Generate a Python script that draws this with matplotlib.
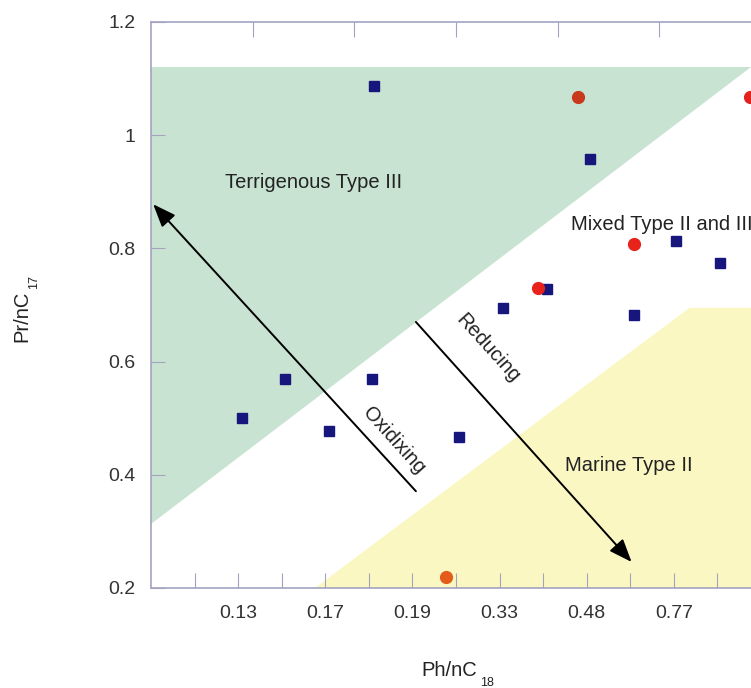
import matplotlib
matplotlib.use('Agg')
import matplotlib.pyplot as plt
from matplotlib import rcParams

rcParams['font.family'] = ['Liberation Sans', 'DejaVu Sans']

# x positions are category slots (tick index), y is Pr/nC17
tick_labels = ['0.13', '0.17', '0.19', '0.33', '0.48', '0.77']
label_slots = [2, 4, 6, 8, 10, 12]

blue_x = [2.09, 3.07, 4.08, 5.07, 5.11, 7.06, 8.07, 9.08, 10.07, 11.08, 12.06, 13.07]
blue_y = [0.500, 0.569, 0.477, 0.569, 1.087, 0.467, 0.695, 0.728, 0.958, 0.682, 0.813, 0.774]

red_x = [9.79, 13.74, 11.08, 8.88]
red_y = [1.067, 1.067, 0.808, 0.730]
red_colors = ['#c9391c', '#e0231c', '#e8231c', '#e8231c']

orange_x = [6.77]
orange_y = [0.219]

# zone outlines
terr_x = [0, 0, 13.76]
terr_y = [0.313, 1.12, 1.12]
marine_x = [3.76, 12.36, 14, 14]
marine_y = [0.2, 0.695, 0.695, 0.2]

W, H = 751, 688
fig = plt.figure(figsize=(W / 100, H / 100), dpi=100)
ax = fig.add_axes([151 / W, 1 - 588 / H, 610 / W, 566 / H])
ax.set_xlim(0, 14)
ax.set_ylim(0.2, 1.2)

ax.fill(terr_x, terr_y, color='#c8e3d2', lw=0, zorder=0)
ax.fill(marine_x, marine_y, color='#fbf7c2', lw=0, zorder=0)

ax.plot(blue_x, blue_y, 's', color='#16167c', markersize=7.5, zorder=3)
for x, y, c in zip(red_x, red_y, red_colors):
    ax.plot(x, y, 'o', color=c, markersize=8.5, zorder=3, clip_on=False)
ax.plot(orange_x, orange_y, 'o', color='#e35c1c', markersize=8.5, zorder=3)

arrow = dict(arrowstyle='-|>,head_length=1.4,head_width=0.55',
             color='black', lw=1.4, shrinkA=0, shrinkB=0)
ax.annotate('', xy=(0.05, 0.878), xytext=(6.08, 0.371), arrowprops=arrow)
ax.annotate('', xy=(11.03, 0.246), xytext=(6.08, 0.670), arrowprops=arrow)

txt = dict(fontsize=14.5, color='#222222')
ax.text(3.72, 0.917, 'Terrigenous Type III', ha='center', va='center', **txt)
ax.text(9.63, 0.843, 'Mixed Type II and III', ha='left', va='center', **txt)
ax.text(10.96, 0.417, 'Marine Type II', ha='center', va='center', **txt)
ax.text(7.73, 0.624, 'Reducing', ha='center', va='center', rotation=-48,
        rotation_mode='anchor', **txt)
ax.text(5.57, 0.461, 'Oxidixing', ha='center', va='center', rotation=-48,
        rotation_mode='anchor', **txt)

spine_c = '#a3a3c0'
for side in ['left', 'bottom', 'top']:
    ax.spines[side].set_color(spine_c)
    ax.spines[side].set_linewidth(1.2)
ax.spines['right'].set_visible(False)

ax.set_xticks(range(1, 14))
ax.set_xticklabels([tick_labels[label_slots.index(i)] if i in label_slots else ''
                    for i in range(1, 14)])
ax.set_yticks([0.2, 0.4, 0.6, 0.8, 1.0, 1.2])
ax.set_yticklabels(['0.2', '0.4', '0.6', '0.8', '1', '1.2'])
ax.tick_params(axis='x', direction='in', length=11, color=spine_c,
               labelsize=14, labelcolor='#333333', pad=12)
ax.tick_params(axis='y', direction='in', length=10, color=spine_c,
               labelsize=14, labelcolor='#333333', pad=11)

top = ax.secondary_xaxis('top')
top.set_xticks([14 / 6 * k for k in range(1, 6)])
top.set_xticklabels([])
top.tick_params(direction='in', length=11, color=spine_c)
top.spines['top'].set_visible(False)

# axis titles with hand-placed subscripts
fig.text(22 / W, 1 - 316 / H, 'Pr/nC', rotation=90, ha='center', va='center',
         fontsize=14.5, color='#222222')
fig.text(34 / W, 1 - 282 / H, '17', rotation=90, ha='center', va='center',
         fontsize=9, color='#222222')
fig.text(449 / W, 1 - 670 / H, 'Ph/nC', ha='center', va='center',
         fontsize=14.5, color='#222222')
fig.text(487 / W, 1 - 683 / H, '18', ha='center', va='center',
         fontsize=9, color='#222222')

fig.savefig('out.png', dpi=100)
